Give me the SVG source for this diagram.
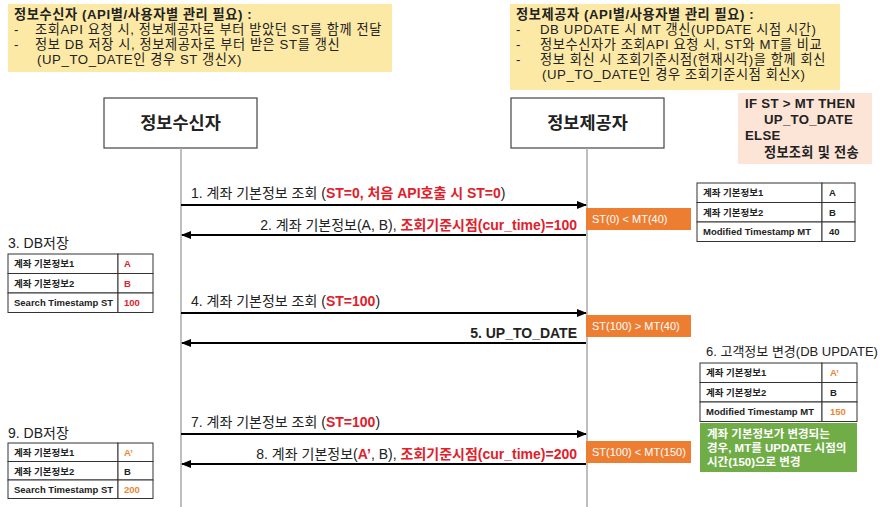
<svg xmlns="http://www.w3.org/2000/svg" width="889" height="507" viewBox="0 0 889 507">
<defs>
<marker id="ah" markerWidth="10" markerHeight="8" refX="9" refY="4" orient="auto" markerUnits="userSpaceOnUse">
<path d="M0,0 L10,4 L0,8 Z" fill="#000"/>
</marker>
<style>
text{font-family:"Liberation Sans","Noto Sans CJK KR",sans-serif;fill:#222}
.note{font-size:13.2px;letter-spacing:0.6px}
.b{font-weight:bold}
.red{fill:#e0202a;font-weight:bold}
.lbl{font-size:14px}
.tb{font-size:9.5px;font-weight:bold}
.cell{fill:#fff;stroke:#333;stroke-width:1}
.msg{stroke:#000;stroke-width:2.2;fill:none}
.life{stroke:#aaa;stroke-width:1.5}
.ob{fill:#ed7d31}
.ot{fill:#fff;font-size:11px}
.gt{fill:#fff;font-size:11.5px;font-weight:bold}
.sec{font-size:14px}
</style>
</defs>
<rect width="889" height="507" fill="#fff"/>

<g id="note-receiver">
<rect x="8" y="4" width="384" height="68" fill="#fce9a6"/>
<text class="note b" x="14" y="19">정보수신자 (API별/사용자별 관리 필요) :</text>
<text class="note" x="14" y="34">-<tspan x="35">조회API 요청 시, 정보제공자로 부터 받았던 ST를 함께 전달</tspan></text>
<text class="note" x="14" y="49">-<tspan x="35">정보 DB 저장 시, 정보제공자로 부터 받은 ST를 갱신</tspan></text>
<text class="note" x="37" y="64">(UP_TO_DATE인 경우 ST 갱신X)</text>
</g>

<g id="note-provider">
<rect x="510" y="4" width="330" height="86" fill="#fce9a6"/>
<text class="note b" x="516" y="19">정보제공자 (API별/사용자별 관리 필요) :</text>
<text class="note" x="516" y="34">-<tspan x="540">DB UPDATE 시 MT 갱신(UPDATE 시점 시간)</tspan></text>
<text class="note" x="516" y="49">-<tspan x="540">정보수신자가 조회API 요청 시, ST와 MT를 비교</tspan></text>
<text class="note" x="516" y="64">-<tspan x="540">정보 회신 시 조회기준시점(현재시각)을 함께 회신</tspan></text>
<text class="note" x="542" y="79">(UP_TO_DATE인 경우 조회기준시점 회신X)</text>
</g>

<g id="note-rule">
<rect x="738" y="93" width="134" height="71" fill="#fce4d6"/>
<text class="note b" x="745" y="108" style="letter-spacing:0.3px">IF ST &gt; MT THEN</text>
<text class="note b" x="764" y="124" style="letter-spacing:0.3px">UP_TO_DATE</text>
<text class="note b" x="745" y="140" style="letter-spacing:0.3px">ELSE</text>
<text class="note b" x="764" y="157" style="letter-spacing:0.3px">정보조회 및 전송</text>
</g>

<g id="receiver">
<rect x="104" y="98" width="153" height="50" fill="#fff" stroke="#444" stroke-width="1.2"/>
<text x="180.5" y="129" text-anchor="middle" font-size="17.5" font-weight="bold">정보수신자</text>
</g>
<g id="provider">
<rect x="511" y="98" width="153" height="50" fill="#fff" stroke="#444" stroke-width="1.2"/>
<text x="587.5" y="129" text-anchor="middle" font-size="17.5" font-weight="bold">정보제공자</text>
</g>

<g id="connectors">
<line class="life" x1="181" y1="148" x2="181" y2="507"/>
<line class="life" x1="587" y1="148" x2="587" y2="507"/>
<line class="msg" x1="181" y1="205" x2="586" y2="205" marker-end="url(#ah)"/>
<line class="msg" x1="586" y1="235" x2="182" y2="235" marker-end="url(#ah)"/>
<line class="msg" x1="181" y1="313" x2="586" y2="313" marker-end="url(#ah)"/>
<line class="msg" x1="586" y1="343" x2="182" y2="343" marker-end="url(#ah)"/>
<line class="msg" x1="181" y1="434" x2="586" y2="434" marker-end="url(#ah)"/>
<line class="msg" x1="586" y1="464" x2="182" y2="464" marker-end="url(#ah)"/>
</g>

<g id="labels">
<text class="lbl" x="191" y="198">1. 계좌 기본정보 조회 (<tspan class="red">ST=0, 처음 API호출 시 ST=0</tspan>)</text>
<text class="lbl" x="577" y="230" text-anchor="end">2. 계좌 기본정보(A, B), <tspan class="red">조회기준시점(cur_time)=100</tspan></text>
<text class="lbl" x="191" y="306">4. 계좌 기본정보 조회 (<tspan class="red">ST=100</tspan>)</text>
<text class="lbl b" x="577" y="338" text-anchor="end">5. UP_TO_DATE</text>
<text class="lbl" x="191" y="427">7. 계좌 기본정보 조회 (<tspan class="red">ST=100</tspan>)</text>
<text class="lbl" x="577" y="459" text-anchor="end">8. 계좌 기본정보(<tspan class="red">A’</tspan>, B), <tspan class="red">조회기준시점(cur_time)=200</tspan></text>
</g>

<g id="cmp1">
<rect class="ob" x="586" y="208" width="105" height="22"/>
<text class="ot" x="592" y="223">ST(0) &lt; MT(40)</text>
</g>
<g id="cmp2">
<rect class="ob" x="586" y="315" width="105" height="22"/>
<text class="ot" x="592" y="330">ST(100) &gt; MT(40)</text>
</g>
<g id="cmp3">
<rect class="ob" x="586" y="441" width="105" height="22"/>
<text class="ot" x="592" y="456">ST(100) &lt; MT(150)</text>
</g>

<g id="provider-table1">
<rect class="cell" x="697" y="183" width="125" height="19.5"/><rect class="cell" x="822" y="183" width="33" height="19.5"/>
<rect class="cell" x="697" y="202.5" width="125" height="19.5"/><rect class="cell" x="822" y="202.5" width="33" height="19.5"/>
<rect class="cell" x="697" y="222" width="125" height="19.5"/><rect class="cell" x="822" y="222" width="33" height="19.5"/>
<text class="tb" x="703" y="196">계좌 기본정보1</text><text class="tb" x="829" y="196">A</text>
<text class="tb" x="703" y="216">계좌 기본정보2</text><text class="tb" x="829" y="216">B</text>
<text class="tb" x="703" y="235">Modified Timestamp MT</text><text class="tb" x="829" y="235">40</text>
</g>

<g id="receiver-store1">
<text class="sec" x="8" y="248">3. DB저장</text>
<rect class="cell" x="8" y="254" width="110" height="19.5"/><rect class="cell" x="118" y="254" width="35" height="19.5"/>
<rect class="cell" x="8" y="273.5" width="110" height="19.5"/><rect class="cell" x="118" y="273.5" width="35" height="19.5"/>
<rect class="cell" x="8" y="293" width="110" height="19.5"/><rect class="cell" x="118" y="293" width="35" height="19.5"/>
<text class="tb" x="14" y="267">계좌 기본정보1</text><text class="tb" x="124" y="267" style="fill:#e0202a">A</text>
<text class="tb" x="14" y="287">계좌 기본정보2</text><text class="tb" x="124" y="287" style="fill:#e0202a">B</text>
<text class="tb" x="14" y="306">Search Timestamp ST</text><text class="tb" x="124" y="306" style="fill:#e0202a">100</text>
</g>

<g id="provider-update">
<text x="706" y="356" font-size="13">6. 고객정보 변경(DB UPDATE)</text>
<rect class="cell" x="700" y="363" width="122" height="19.5"/><rect class="cell" x="822" y="363" width="35" height="19.5"/>
<rect class="cell" x="700" y="382.5" width="122" height="19.5"/><rect class="cell" x="822" y="382.5" width="35" height="19.5"/>
<rect class="cell" x="700" y="402" width="122" height="19.5"/><rect class="cell" x="822" y="402" width="35" height="19.5"/>
<text class="tb" x="706" y="376">계좌 기본정보1</text><text class="tb" x="830" y="376" style="fill:#e8863a">A’</text>
<text class="tb" x="706" y="396">계좌 기본정보2</text><text class="tb" x="830" y="396">B</text>
<text class="tb" x="706" y="415">Modified Timestamp MT</text><text class="tb" x="830" y="415" style="fill:#e8863a">150</text>
</g>

<g id="update-note">
<rect x="700" y="423" width="157" height="49" fill="#70ad47"/>
<text class="gt" x="707" y="438">계좌 기본정보가 변경되는</text>
<text class="gt" x="707" y="452">경우, MT를 UPDATE 시점의</text>
<text class="gt" x="707" y="466">시간(150)으로 변경</text>
</g>

<g id="receiver-store2">
<text class="sec" x="8" y="438">9. DB저장</text>
<rect class="cell" x="8" y="443" width="110" height="18.5"/><rect class="cell" x="118" y="443" width="35" height="18.5"/>
<rect class="cell" x="8" y="461.5" width="110" height="18.5"/><rect class="cell" x="118" y="461.5" width="35" height="18.5"/>
<rect class="cell" x="8" y="480" width="110" height="18.5"/><rect class="cell" x="118" y="480" width="35" height="18.5"/>
<text class="tb" x="14" y="456">계좌 기본정보1</text><text class="tb" x="124" y="456" style="fill:#e8863a">A’</text>
<text class="tb" x="14" y="475">계좌 기본정보2</text><text class="tb" x="124" y="475">B</text>
<text class="tb" x="14" y="493">Search Timestamp ST</text><text class="tb" x="124" y="493" style="fill:#e8863a">200</text>
</g>
</svg>
